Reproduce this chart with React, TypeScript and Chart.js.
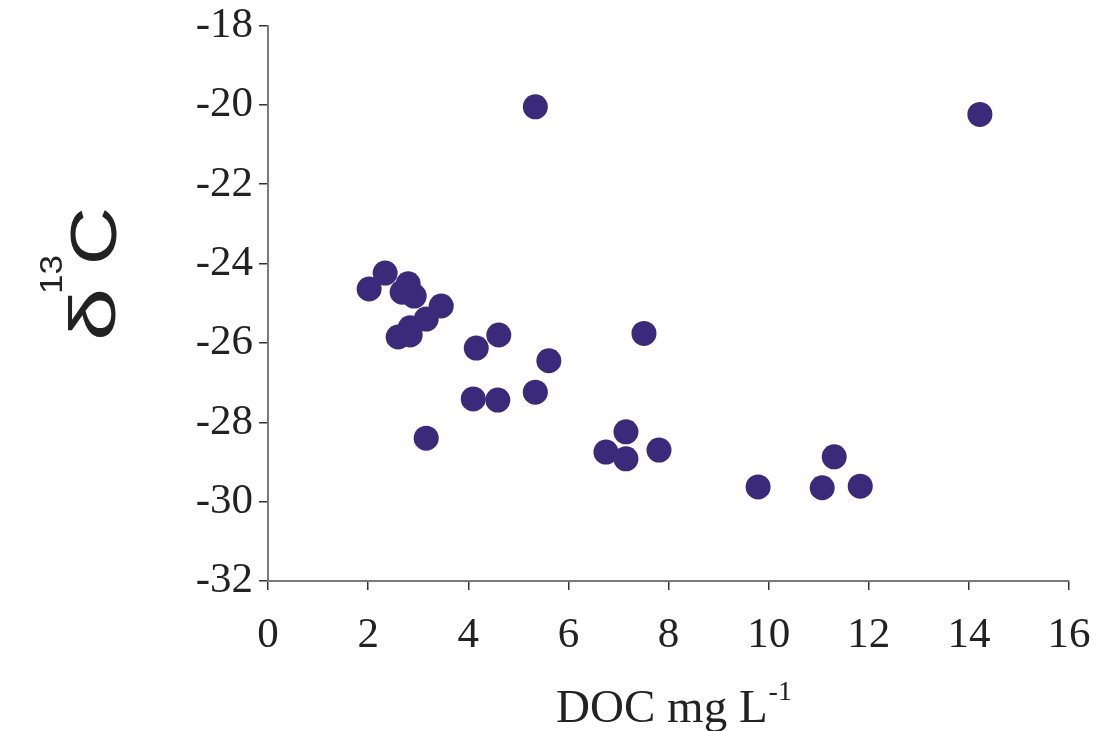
import React, { useEffect, useRef } from 'react';
import { Chart, registerables } from 'chart.js';

Chart.register(...registerables);

// DOC (mg L-1) for each sample
const docValues: number[] = [
  2.02, 2.34, 2.80, 2.68, 2.92, 3.46, 3.16, 2.84, 2.60, 2.84,
  4.16, 4.61, 5.61, 7.51, 5.34, 14.22, 4.10, 4.59, 5.34, 3.16,
  6.75, 7.15, 7.15, 7.81, 9.79, 11.07, 11.31, 11.83,
];
// delta 13C for each sample
const d13cValues: number[] = [
  -24.64, -24.24, -24.51, -24.72, -24.82, -25.07, -25.40, -25.62, -25.85, -25.80,
  -26.13, -25.80, -26.45, -25.76, -20.05, -20.24, -27.41, -27.44, -27.24, -28.40,
  -28.75, -28.24, -28.92, -28.70, -29.63, -29.65, -28.87, -29.61,
];
const xTickValues: number[] = [0, 2, 4, 6, 8, 10, 12, 14, 16];
const yTickValues: number[] = [-32, -30, -28, -26, -24, -22, -20, -18];

const xTitleMain = 'DOC mg L';
const xTitleSup = '-1';
const yTitleDelta = 'δ';
const yTitleSup = '13';
const yTitleC = 'C';

function drawStretched(ctx: CanvasRenderingContext2D, text: string, x: number, y: number, sx: number) {
  ctx.save();
  ctx.translate(x, y);
  ctx.scale(sx, 1);
  ctx.fillText(text, 0, 0);
  ctx.restore();
}

export default function App() {
  const ref = useRef<HTMLCanvasElement>(null);

  useEffect(() => {
    const canvas = ref.current;
    if (!canvas) return;

    const titlePlugin = {
      id: 'axisTitles',
      afterDraw(chart: any) {
        const ctx = chart.ctx as CanvasRenderingContext2D;
        const area = chart.chartArea;
        ctx.save();
        ctx.fillStyle = '#222222';
        ctx.textBaseline = 'alphabetic';
        ctx.textAlign = 'left';

        // X axis title
        ctx.font = '47px "Liberation Serif"';
        const wMain = ctx.measureText(xTitleMain).width;
        ctx.font = '28px "Liberation Serif"';
        const wSup = ctx.measureText(xTitleSup).width;
        const cx = (area.left + area.right) / 2 + 5;
        const startX = cx - (wMain + wSup) / 2;
        ctx.font = '47px "Liberation Serif"';
        ctx.fillText(xTitleMain, startX, 722);
        ctx.font = '28px "Liberation Serif"';
        ctx.fillText(xTitleSup, startX + wMain + 1, 700);

        // Y axis title (rotated)
        ctx.save();
        ctx.translate(116, 341);
        ctx.rotate(-Math.PI / 2);
        ctx.font = '64px "Liberation Sans"';
        drawStretched(ctx, yTitleDelta, 0, -1, 1.5);
        ctx.font = '31px "Liberation Sans"';
        drawStretched(ctx, yTitleSup, 47, -54, 1.13);
        ctx.font = '64px "Liberation Sans"';
        drawStretched(ctx, yTitleC, 76, 0, 1.25);
        ctx.restore();

        ctx.restore();
      },
    };

    const tickFont = { family: '"Liberation Serif"', size: 43 };

    const chart = new Chart(canvas, {
      type: 'scatter',
      data: {
        datasets: [
          {
            data: docValues.map((x, i) => ({ x, y: d13cValues[i] })),
            backgroundColor: '#3b2a7a',
            borderColor: '#3b2a7a',
            borderWidth: 0,
            pointRadius: 12.5,
            pointHoverRadius: 12.5,
          },
        ],
      },
      options: {
        responsive: false,
        animation: false,
        layout: { padding: { top: 25.5, right: 27, left: 0, bottom: 0 } },
        plugins: {
          legend: { display: false },
          tooltip: { enabled: false },
        },
        scales: {
          x: {
            type: 'linear',
            min: 0,
            max: 16,
            afterFit: (scale: any) => {
              scale.height = 150;
              scale.paddingLeft = 0;
              scale.paddingRight = 0;
            },
            afterBuildTicks: (scale: any) => {
              scale.ticks = xTickValues.map((v) => ({ value: v }));
            },
            ticks: {
              font: tickFont,
              color: '#222222',
              padding: 20,
              maxRotation: 0,
              callback: (v: any) => String(v),
            },
            grid: {
              drawOnChartArea: false,
              drawTicks: true,
              tickLength: 9,
              color: '#333333',
              lineWidth: 1.5,
            },
            border: { display: true, color: '#7a7a7a', width: 2 },
          },
          y: {
            type: 'linear',
            min: -32,
            max: -18,
            afterFit: (scale: any) => {
              scale.width = 268;
              scale.paddingTop = 0;
              scale.paddingBottom = 0;
            },
            afterBuildTicks: (scale: any) => {
              scale.ticks = yTickValues.map((v) => ({ value: v }));
            },
            ticks: {
              font: tickFont,
              color: '#222222',
              padding: 6,
              callback: (v: any) => String(v),
            },
            grid: {
              drawOnChartArea: false,
              drawTicks: true,
              tickLength: 9,
              color: '#333333',
              lineWidth: 1.5,
            },
            border: { display: true, color: '#7a7a7a', width: 2 },
          },
        },
      },
      plugins: [titlePlugin],
    });

    return () => {
      chart.destroy();
    };
  }, []);

  return (
    <div style={{ position: 'fixed', left: 0, top: 0, width: 1096, height: 731, background: '#ffffff' }}>
      <canvas ref={ref} width={1096} height={731} style={{ display: 'block', width: 1096, height: 731 }} />
    </div>
  );
}
